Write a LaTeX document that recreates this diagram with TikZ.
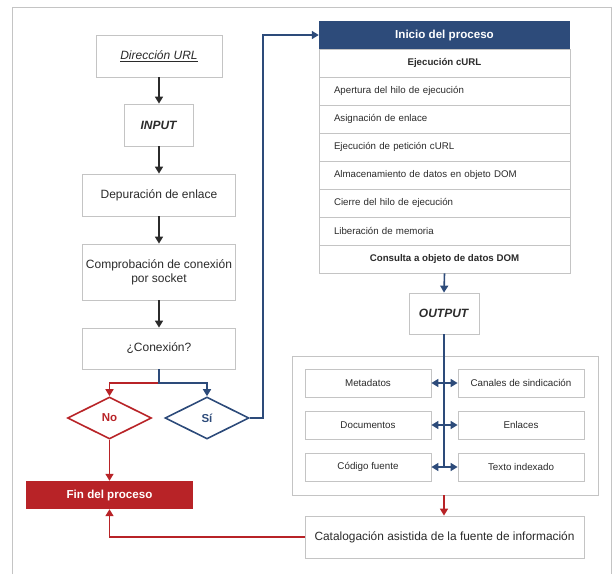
\documentclass[tikz,border=0pt]{standalone}
\usepackage{fontspec}
\setmainfont{Liberation Sans}
\usetikzlibrary{arrows.meta,shapes.geometric}
\definecolor{azul}{HTML}{2D4B7A}
\definecolor{rojo}{HTML}{B82327}
\definecolor{borde}{HTML}{C4C4C4}
\definecolor{texto}{HTML}{2B2B2B}

\begin{document}
\begin{tikzpicture}[x=1pt,y=-1pt,
  every node/.style={font=\fontsize{12}{14}\selectfont,text=texto,inner sep=0pt},
  caja/.style={draw=borde,line width=0.8pt,rectangle,fill=white,align=center},
  fila/.style={caja,minimum width=251pt,minimum height=28pt,font=\fontsize{9.7}{11}\selectfont},
  filaizq/.style={fila,text width=221pt,inner xsep=15pt,align=left},
  salida/.style={caja,minimum width=126pt,minimum height=28pt,font=\fontsize{9.8}{11}\selectfont},
  rombo/.style={diamond,draw,line width=1.6pt,minimum width=84pt,minimum height=42pt,aspect=2,font=\bfseries\fontsize{11.5}{13}\selectfont},
  flecha/.style={-{Triangle[length=7pt,width=8pt]},line width=1.6pt}]
  \useasboundingbox (0,0) rectangle (613,574);
  \draw[borde,line width=0.8pt] (12,574) -- (12,7) -- (611,7) -- (611,574);

  % columna izquierda
  \node[caja,minimum width=126pt,minimum height=42pt] (url) at (159,56) {\textit{\underline{Dirección URL}}};
  \node[caja,minimum width=69pt,minimum height=42pt] (input) at (159,125) {\textbf{\textit{INPUT}}};
  \node[caja,minimum width=153pt,minimum height=42pt] (depura) at (159,195) {Depuración de enlace};
  \node[caja,minimum width=153pt,minimum height=56pt] (socket) at (159,272) {Comprobación de conexión\\por socket};
  \node[caja,minimum width=153pt,minimum height=41pt] (conexion) at (159,348.5) {¿Conexión?};
  \node[rombo,draw=rojo,text=rojo] (no) at (109.5,418) {No};
  \node[rombo,draw=azul,text=azul] (si) at (207,418) {Sí};
  \node[rectangle,fill=rojo,minimum width=167pt,minimum height=28pt,text=white,font=\bfseries\fontsize{11.6}{13}\selectfont] (fin) at (109.5,495) {Fin del proceso};

  \foreach \from/\to in {url/input,input/depura,depura/socket,socket/conexion}
    \draw[flecha,texto] (\from) -- (\to);
  \coordinate (split) at (159,383);
  \draw[flecha,rojo] (conexion.south) -- (split) -| (no.north);
  \draw[flecha,azul] (conexion.south) -- (split) -| (si.north);
  \draw[flecha,rojo] (no.south) -- (fin.north);

  % columna derecha
  \node[rectangle,fill=azul,minimum width=251pt,minimum height=28pt,text=white,font=\bfseries\fontsize{11.6}{13}\selectfont] (inicio) at (444.5,35) {Inicio del proceso};
  \node[fila,font=\bfseries\fontsize{9.7}{11}\selectfont] (curl) at (444.5,63) {Ejecución cURL};
  \node[filaizq] (f1) at (444.5,91) {Apertura del hilo de ejecución};
  \node[filaizq] (f2) at (444.5,119) {Asignación de enlace};
  \node[filaizq] (f3) at (444.5,147) {Ejecución de petición cURL};
  \node[filaizq] (f4) at (444.5,175) {Almacenamiento de datos en objeto DOM};
  \node[filaizq] (f5) at (444.5,203) {Cierre del hilo de ejecución};
  \node[filaizq] (f6) at (444.5,231) {Liberación de memoria};
  \node[fila,font=\bfseries\fontsize{9.7}{11}\selectfont] (consulta) at (444.5,259) {Consulta a objeto de datos DOM};
  \coordinate (codo) at (263,35);
  \draw[flecha,azul] (si.east) -| (codo) -- (inicio.west);

  \node[caja,minimum width=70pt,minimum height=41pt] (output) at (444,313.5) {\textbf{\textit{OUTPUT}}};
  \draw[flecha,azul] (consulta.south) -- (output.north);

  \node[caja,minimum width=306pt,minimum height=139pt] (grupo) at (445,425.5) {};
  \node[salida] (meta) at (368,383) {Metadatos};
  \node[salida] (canal) at (521,383) {Canales de sindicación};
  \node[salida] (docs) at (368,425) {Documentos};
  \node[salida] (enlaces) at (521,425) {Enlaces};
  \node[salida] (codigo) at (368,467) {Código fuente};
  \node[salida] (indexado) at (521,467) {Texto indexado};
  \draw[azul,line width=1.6pt] (output.south) -- (output.south |- codigo.east);
  \foreach \from/\to in {meta/canal,docs/enlaces,codigo/indexado}
    \draw[{Triangle[length=7pt,width=8pt]}-{Triangle[length=7pt,width=8pt]},azul,line width=1.6pt] (\from.east) -- (\to.west);

  \node[caja,minimum width=279pt,minimum height=42pt,font=\fontsize{11.9}{14}\selectfont] (catalogo) at (444.5,537) {Catalogación asistida de la fuente de información};
  \draw[flecha,rojo] (grupo.south -| output.south) -- (catalogo.north -| output.south);
  \draw[flecha,rojo] (catalogo.west) -| (fin.south);
\end{tikzpicture}
\end{document}
